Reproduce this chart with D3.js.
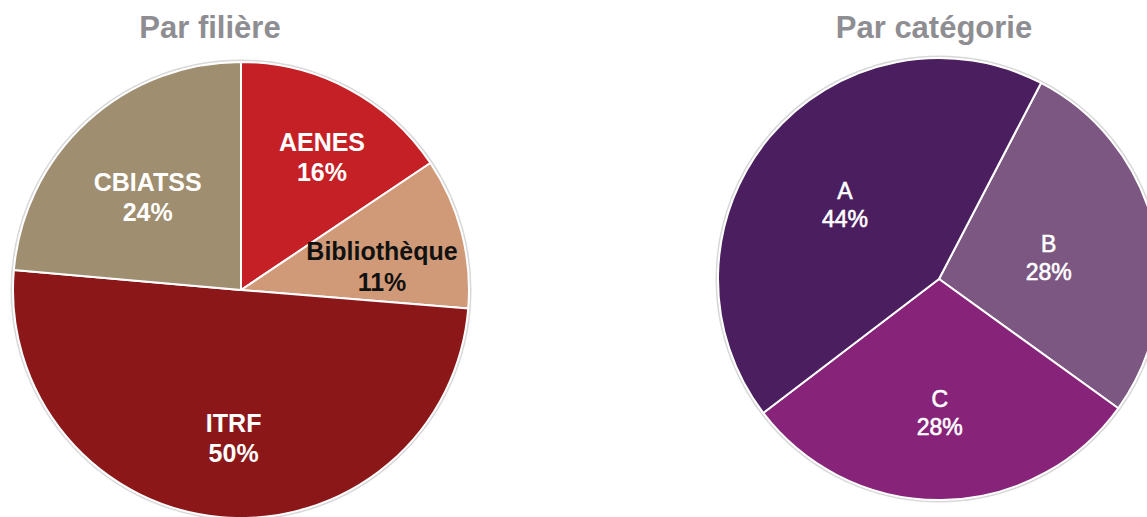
<!DOCTYPE html>
<html>
<head>
<meta charset="utf-8">
<script src="https://cdn.jsdelivr.net/npm/d3@7.9.0/dist/d3.min.js"></script>
<style>
  body { margin: 0; background: #fff; }
  svg { display: block; font-family: "Liberation Sans", Arial, sans-serif; }
</style>
</head>
<body>
<div id="chart"></div>
<script>
// data
const filiereLabels = ['AENES', 'Bibliothèque', 'ITRF', 'CBIATSS'];
const filiereShares = [15.6, 10.7, 50.1, 23.6];
const filiereText = ['16%', '11%', '50%', '24%'];

const categorieLabels = ['B', 'C', 'A'];
const categorieShares = [27.3, 29.7, 43.0];
const categorieText = ['28%', '28%', '44%'];

const width = 1147;
const height = 517;

const svg = d3.select('#chart')
    .append('svg')
    .attr('width', width)
    .attr('height', height);

function drawPie(opts) {
    const g = svg.append('g')
        .attr('transform', `translate(${opts.cx}, ${opts.cy})`);

    const data = opts.labels.map((label, i) => ({
        label,
        value: opts.values[i],
        text: opts.texts[i],
        color: opts.colors[i],
        textColor: opts.textColors[i],
        labelPos: opts.labelPos[i],
        nudge: opts.nudge[i]
    }));

    const pie = d3.pie()
        .sort(null)
        .value(d => d.value)
        .startAngle(opts.start)
        .endAngle(opts.start + 2 * Math.PI);

    const arc = d3.arc().innerRadius(0).outerRadius(opts.r);

    // faint rim around the pie
    g.append('circle')
        .attr('r', opts.r + 1.5)
        .attr('fill', 'none')
        .attr('stroke', '#d8d8d8')
        .attr('stroke-width', 2);

    const arcs = pie(data);

    g.selectAll('path')
        .data(arcs)
        .join('path')
        .attr('d', arc)
        .attr('fill', d => d.data.color)
        .attr('stroke', '#fff')
        .attr('stroke-width', 2)
        .attr('stroke-linejoin', 'round');

    const labels = g.selectAll('text.lbl')
        .data(arcs)
        .join('text')
        .attr('class', 'lbl')
        .attr('transform', d => {
            const lr = opts.r * d.data.labelPos;
            const [x, y] = d3.arc().innerRadius(lr).outerRadius(lr).centroid(d);
            return `translate(${x + d.data.nudge[0]}, ${y + d.data.nudge[1]})`;
        })
        .attr('text-anchor', 'middle')
        .attr('fill', d => d.data.textColor)
        .style('font-size', opts.fontSize + 'px')
        .style('font-weight', opts.fontWeight)
        .style('stroke', d => d.data.textColor)
        .style('stroke-width', opts.textStroke);

    labels.append('tspan')
        .attr('x', 0)
        .attr('dy', '-0.22em')
        .text(d => d.data.label);

    labels.append('tspan')
        .attr('x', 0)
        .attr('dy', '1.22em')
        .text(d => d.data.text);

    svg.append('text')
        .attr('x', opts.titleX)
        .attr('y', 38)
        .attr('text-anchor', 'middle')
        .attr('fill', '#8e8e92')
        .style('font-size', '31px')
        .style('font-weight', 'bold')
        .text(opts.title);
}

const deg = Math.PI / 180;

drawPie({
    title: 'Par filière',
    titleX: 210,
    cx: 241, cy: 290, r: 228,
    start: 0,
    labels: filiereLabels,
    values: filiereShares,
    texts: filiereText,
    colors: ['#c62027', '#d09a78', '#8c1719', '#9f8e70'],
    textColors: ['#fff', '#111', '#fff', '#fff'],
    labelPos: [0.68, 0.63, 0.64, 0.58],
    nudge: [[8, 3], [2, 12], [5, 2], [-4, 4]],
    fontSize: 25,
    fontWeight: 'bold',
    textStroke: 0
});

drawPie({
    title: 'Par catégorie',
    titleX: 934,
    cx: 939, cy: 279, r: 221,
    start: 27.5 * deg,
    labels: categorieLabels,
    values: categorieShares,
    texts: categorieText,
    colors: ['#7c5782', '#872479', '#4b1f5f'],
    textColors: ['#fff', '#fff', '#fff'],
    labelPos: [0.51, 0.59, 0.55],
    nudge: [[0, 4], [-1, 3], [-1, 3]],
    fontSize: 23,
    fontWeight: 'normal',
    textStroke: 0.6
});
</script>
</body>
</html>
